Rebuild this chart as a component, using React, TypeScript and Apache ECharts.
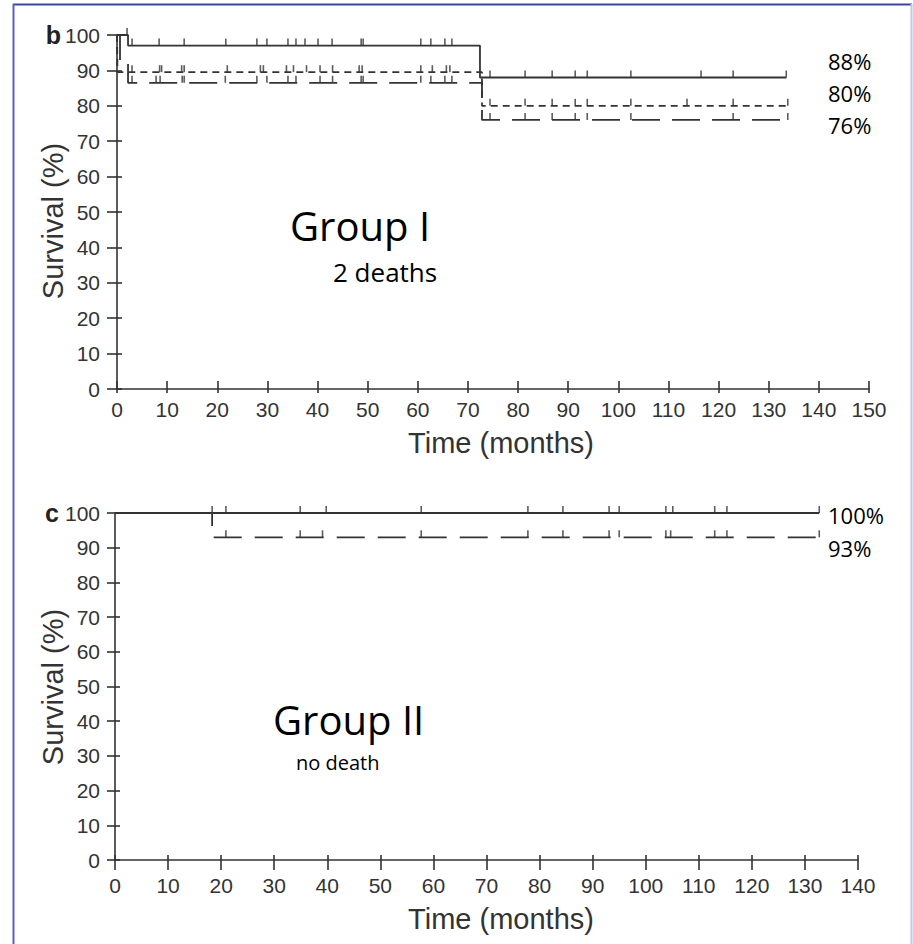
import React, { useEffect, useRef } from "react";
import * as echarts from "echarts";

// ---------- DATA ----------
const topXTicks = [0, 150];
const botXTicks = [0, 140];
const yRange = [0, 100];

// Group I (panel b): step points [months, survival %]
const topSolid = [[0, 100], [2.2, 97], [72.4, 88], [133.5, 88]];
const topShort = [[0, 100], [0.1, 89.5], [72.8, 80], [133.8, 80]];
const topLong = [[0, 100], [0.6, 92.5], [2.2, 86.5], [72.8, 76], [133.8, 76]];

const topSolidCensor = [2.0, 3.0, 8.4, 13.4, 21.7, 27.9, 29.9, 34.1, 35.7, 37.5, 40.1, 42.9, 48.7, 49.1, 60.6, 62.6, 65.4, 66.8, 74.4, 81.4, 86.8, 91.4, 93.8, 102.5, 116.5, 122.9, 133.5];
const topShortCensor = [3.0, 8.5, 8.9, 12.9, 13.4, 22.0, 28.6, 29.2, 33.8, 35.2, 37.8, 40.5, 43.0, 48.3, 48.9, 60.6, 62.9, 65.7, 66.4, 74.4, 81.4, 86.8, 91.4, 93.8, 102.5, 113.7, 122.9, 133.8];
const topLongCensor = [3.0, 7.8, 8.6, 13.0, 13.4, 21.6, 27.9, 29.9, 34.1, 35.7, 40.5, 43.0, 48.7, 49.1, 60.6, 62.6, 65.4, 66.8, 74.4, 81.4, 86.8, 91.4, 93.8, 102.5, 122.9, 133.8];

// Group II (panel c)
const botSolid = [[0, 100], [132.7, 100]];
const botLong = [[0, 100], [18.3, 93], [132.7, 93]];
const botSolidCensor = [18.3, 20.9, 34.9, 39.8, 57.7, 77.8, 84.4, 93.1, 95.0, 103.8, 105.1, 113.0, 115.3, 132.7];
const botLongCensor = [20.9, 34.9, 39.1, 57.7, 77.8, 84.4, 93.1, 95.0, 103.8, 104.7, 113.0, 115.3, 132.7];

const topEndLabels = ["88%", "80%", "76%"];
const botEndLabels = ["100%", "93%"];

// ---------- helpers ----------
const survivalAt = (steps: number[][], t: number) => {
  let v = steps[0][1];
  for (const p of steps) if (p[0] <= t) v = p[1];
  return v;
};
const censorPoints = (steps: number[][], times: number[]) => times.map((t) => [t, survivalAt(steps, t)]);

const INK = "#333333";
const AXIS_FONT = "Liberation Sans, Arial, sans-serif";
const NOTE_FONT = "Open Sans, sans-serif";

export default function App() {
  const ref = useRef<HTMLDivElement>(null);
  useEffect(() => {
    if (!ref.current) return;
    const chart = echarts.init(ref.current, null, { renderer: "svg" });

    const xAxisPair = (grid: number, max: number, outLen: number, inLen: number, margin: number) => [
      {
        type: "value", gridIndex: grid, position: "bottom", min: topXTicks[0], max, interval: 10,
        axisLine: { show: true, lineStyle: { color: INK, width: 1.6 } },
        axisTick: { show: true, inside: false, length: outLen, lineStyle: { color: INK, width: 1.6 } },
        axisLabel: { show: true, margin, color: INK, fontSize: 21, fontFamily: AXIS_FONT },
        splitLine: { show: false },
      },
      {
        type: "value", gridIndex: grid, position: "bottom", min: topXTicks[0], max, interval: 10,
        axisLine: { show: false },
        axisTick: { show: true, inside: true, length: inLen, lineStyle: { color: INK, width: 1.6 } },
        axisLabel: { show: false },
        splitLine: { show: false },
      },
    ];
    const yAxisPair = (grid: number, outLen: number, inLen: number, margin: number) => [
      {
        type: "value", gridIndex: grid, position: "left", min: yRange[0], max: yRange[1], interval: 10,
        axisLine: { show: true, lineStyle: { color: INK, width: 1.6 } },
        axisTick: { show: true, inside: false, length: outLen, lineStyle: { color: INK, width: 1.6 } },
        axisLabel: { show: true, margin, color: INK, fontSize: 21, fontFamily: AXIS_FONT },
        splitLine: { show: false },
      },
      {
        type: "value", gridIndex: grid, position: "left", min: yRange[0], max: yRange[1], interval: 10,
        axisLine: { show: false },
        axisTick: { show: true, inside: true, length: inLen, lineStyle: { color: INK, width: 1.6 } },
        axisLabel: { show: false },
        splitLine: { show: false },
      },
    ];

    const stepLine = (data: number[][], xi: number, yi: number, type: any, z: number) => ({
      type: "line", xAxisIndex: xi, yAxisIndex: yi, data, step: "end", showSymbol: false, silent: true, z,
      lineStyle: { color: INK, width: 1.8, type },
    });
    const censor = (steps: number[][], times: number[], xi: number, yi: number) => ({
      type: "scatter", xAxisIndex: xi, yAxisIndex: yi, data: censorPoints(steps, times), silent: true,
      symbol: "rect", symbolSize: [1.6, 7], symbolOffset: [0, "-50%"],
      itemStyle: { color: INK },
    });

    const text = (x: number, y: number, t: string, size: number, opts: any = {}) => ({
      type: "text", x, y, silent: true, rotation: opts.rotation || 0,
      style: {
        text: t, fontSize: size, fontFamily: opts.font || NOTE_FONT, fontWeight: opts.weight || "normal",
        fill: opts.color || "#000", textAlign: opts.align || "left", textVerticalAlign: "middle",
      },
    });

    chart.setOption({
      animation: false,
      backgroundColor: "#fff",
      grid: [
        { left: 117, top: 35, width: 752, height: 354 },
        { left: 115, top: 513, width: 743, height: 347 },
      ],
      xAxis: [...xAxisPair(0, topXTicks[1], 4, 8, 10), ...xAxisPair(1, botXTicks[1], 10, 5, 15)],
      yAxis: [...yAxisPair(0, 10, 5, 17), ...yAxisPair(1, 8, 5, 15)],
      series: [
        stepLine(topLong, 0, 0, [28, 12], 2),
        stepLine(topShort, 0, 0, [7, 5], 2),
        stepLine(topSolid, 0, 0, "solid", 3),
        censor(topSolid, topSolidCensor, 0, 0),
        censor(topShort, topShortCensor, 0, 0),
        censor(topLong, topLongCensor, 0, 0),
        stepLine(botLong, 2, 2, [28, 13], 2),
        stepLine(botSolid, 2, 2, "solid", 3),
        censor(botSolid, botSolidCensor, 2, 2),
        censor(botLong, botLongCensor, 2, 2),
      ],
      graphic: [
        { type: "line", silent: true, shape: { x1: 13, y1: 4.5, x2: 912, y2: 4.5 }, style: { stroke: "#3c4599", lineWidth: 2 } },
        { type: "line", silent: true, shape: { x1: 13.5, y1: 4, x2: 13.5, y2: 944 }, style: { stroke: "#5a5fbf", lineWidth: 2 } },
        { type: "line", silent: true, shape: { x1: 911.5, y1: 4, x2: 911.5, y2: 944 }, style: { stroke: "#c5c5ec", lineWidth: 2 } },
        text(61, 35, "b", 25, { font: AXIS_FONT, weight: "bold", color: "#222", align: "right" }),
        text(59, 513, "c", 25, { font: AXIS_FONT, weight: "bold", color: "#222", align: "right" }),
        text(53, 221, "Survival (%)", 29, { font: AXIS_FONT, color: INK, align: "center", rotation: Math.PI / 2 }),
        text(53, 687, "Survival (%)", 29, { font: AXIS_FONT, color: INK, align: "center", rotation: Math.PI / 2 }),
        text(501, 443, "Time (months)", 29, { font: AXIS_FONT, color: INK, align: "center" }),
        text(501, 919, "Time (months)", 29, { font: AXIS_FONT, color: INK, align: "center" }),
        text(290, 225, "Group I", 40),
        text(333, 272, "2 deaths", 26),
        text(273, 719, "Group II", 40),
        text(296, 762, "no death", 20),
        text(828, 61, topEndLabels[0], 22),
        text(828, 93, topEndLabels[1], 22),
        text(828, 125, topEndLabels[2], 22),
        text(828, 515, botEndLabels[0], 22),
        text(828, 548, botEndLabels[1], 22),
      ],
    });
    return () => chart.dispose();
  }, []);
  return <div ref={ref} style={{ position: "absolute", left: 0, top: 0, width: 913, height: 944 }} />;
}
